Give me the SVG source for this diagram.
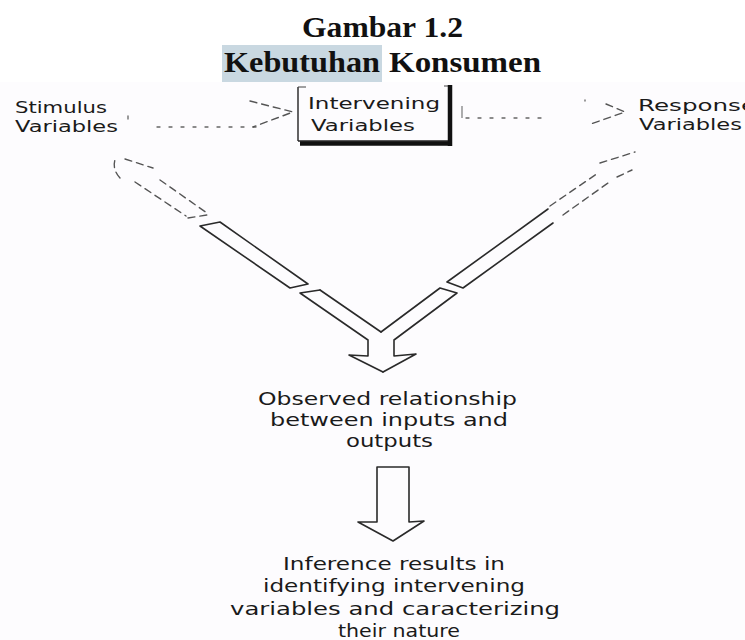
<svg xmlns="http://www.w3.org/2000/svg" width="745" height="640" viewBox="0 0 745 640">
<style>
.title{font-family:"Liberation Serif","DejaVu Serif",serif;font-weight:bold;font-size:29px;fill:#111}
.lbl{font-family:"DejaVu Sans","Liberation Sans",sans-serif;font-size:15px;fill:#1a1a1a}
.txt{font-family:"DejaVu Sans","Liberation Sans",sans-serif;font-size:17px;fill:#1a1a1a}
.solid{fill:none;stroke:#2a2a2a;stroke-width:1.6;stroke-linecap:round;stroke-linejoin:round}
.faint{fill:none;stroke:#555;stroke-width:1.4;stroke-dasharray:7 5;stroke-linecap:round}
.dots{fill:none;stroke:#666;stroke-width:1.3;stroke-dasharray:3 9;stroke-linecap:round}
</style>
<rect x="0" y="0" width="745" height="640" fill="#ffffff"/>
<rect x="0" y="82" width="745" height="558" fill="#fdfcfe"/>
<g id="title">
<text class="title" x="302" y="37" textLength="161" lengthAdjust="spacingAndGlyphs">Gambar 1.2</text>
<rect x="222" y="45" width="160" height="37" fill="#c9d8e1"/>
<text class="title" x="224" y="72" textLength="156" lengthAdjust="spacingAndGlyphs">Kebutuhan</text>
<text class="title" x="389" y="72" textLength="152" lengthAdjust="spacingAndGlyphs">Konsumen</text>
</g>
<g id="stimulus">
<text class="lbl" x="15" y="113" textLength="92" lengthAdjust="spacingAndGlyphs">Stimulus</text>
<text class="lbl" x="15" y="132" textLength="103" lengthAdjust="spacingAndGlyphs">Variables</text>
</g>
<g id="intervening">
<path d="M298,87 V141" stroke="#222" stroke-width="1.4" fill="none"/>
<path d="M298,87 H306 M444,86 H450" stroke="#444" stroke-width="1" fill="none"/>
<path d="M298,141 H449" stroke="#222" stroke-width="1.4" fill="none"/>
<path d="M300,143.5 H451 M450,85 V146" stroke="#111" stroke-width="4.5" fill="none"/>
<text class="lbl" x="308" y="109" textLength="132" lengthAdjust="spacingAndGlyphs">Intervening</text>
<text class="lbl" x="311" y="131" textLength="104" lengthAdjust="spacingAndGlyphs">Variables</text>
</g>
<g id="response">
<text class="lbl" x="638" y="111" textLength="118" lengthAdjust="spacingAndGlyphs">Response</text>
<text class="lbl" x="639" y="130" textLength="103" lengthAdjust="spacingAndGlyphs">Variables</text>
</g>
<g id="observed">
<text class="txt" x="258" y="405" textLength="259" lengthAdjust="spacingAndGlyphs">Observed relationship</text>
<text class="txt" x="270" y="426" textLength="238" lengthAdjust="spacingAndGlyphs">between inputs and</text>
<text class="txt" x="346" y="447" textLength="87" lengthAdjust="spacingAndGlyphs">outputs</text>
</g>
<g id="inference">
<text class="txt" x="283" y="570" textLength="222" lengthAdjust="spacingAndGlyphs">Inference results in</text>
<text class="txt" x="263" y="592" textLength="262" lengthAdjust="spacingAndGlyphs">identifying intervening</text>
<text class="txt" x="230" y="615" textLength="330" lengthAdjust="spacingAndGlyphs">variables and caracterizing</text>
<text class="txt" x="338" y="637" textLength="122" lengthAdjust="spacingAndGlyphs">their nature</text>
</g>
<g id="connectors">
<path class="dots" d="M128,116 V122 M157,127 H256"/>
<path class="faint" d="M250,101 L293,112 L253,127" stroke-dasharray="6 4"/>
<path d="M462,106 V118" stroke="#777" stroke-width="1.2" fill="none"/>
<path class="dots" d="M466,118 H548 M585,100 V101"/>
<path class="faint" d="M606,104 L625,112 L588,125" stroke-dasharray="5 4"/>
<path class="faint" d="M120,178 Q111,168 116,157 M125,159 L153,168 M135,182 L186,216 M160,180 L207,213 M188,218 L207,215"/>
<path class="solid" d="M200,226 L220,222 L308,284 L290,288 Z"/>
<path class="solid" d="M320,290 L300,293 L368,340 L368,356 L349,355 L383,372"/>
<path class="solid" d="M320,290 L381,332"/>
<path class="solid" d="M381,332 L440,288 L457,293 L394,340 L394,356 L416,354 L383,372"/>
<path class="solid" d="M548,209 L447,282 L463,288 L553,223"/>
<path class="faint" d="M550,206 L598,173 M563,215 L608,183 M600,163 L635,152 M617,177 L632,170"/>
<path class="solid" d="M377,522 V467 H409 V522 L424,521 L393,541 L358,522 L377,522"/>
</g>
</svg>
